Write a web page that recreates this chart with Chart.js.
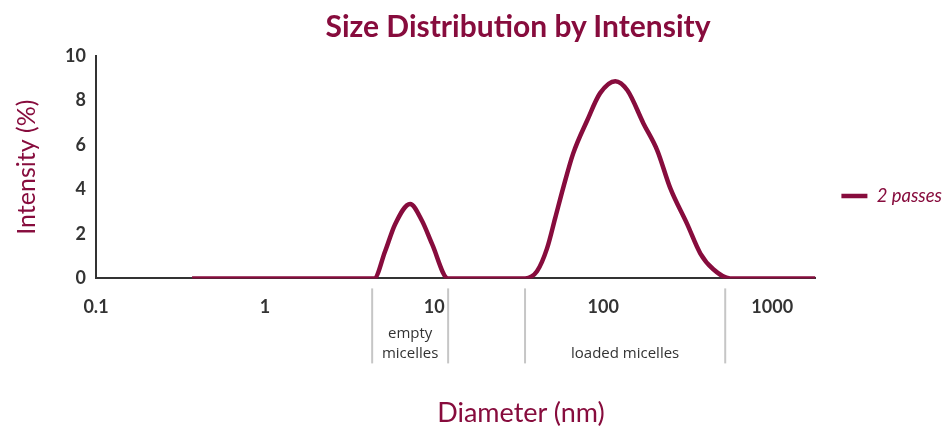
<!DOCTYPE html>
<html>
<head>
<meta charset="utf-8">
<script src="https://cdn.jsdelivr.net/npm/chart.js@4"></script>
<style>
  body { margin: 0; background: #fff; }
  #wrap { position: relative; width: 947px; height: 430px; }
  .ttl { position: absolute; transform: translateX(-50%); white-space: nowrap; color: #870c3d; font-family: Lato, sans-serif; }
  #title { left: 518px; top: 7px; font-size: 30px; font-weight: bold; }
  #xtitle { left: 521px; top: 395px; font-size: 27px; }
</style>
</head>
<body>
<div id="wrap">
  <canvas id="sizeChart" width="947" height="430"></canvas>
  <div class="ttl" id="title">Size Distribution by Intensity</div>
  <div class="ttl" id="xtitle">Diameter (nm)</div>
</div>
<script>
const seriesName = "2 passes";
const diameters = [0.37, 4.42, 5.13, 5.88, 7.21, 8.49, 9.73, 12.1, 34.5, 40.6, 46.6, 52.0, 58.0, 66.4, 80.4, 95.9, 118, 139, 173, 209, 249, 314, 375, 448, 564, 1800];
const intensities = [0, 0, 1.22, 2.44, 3.35, 2.58, 1.54, 0, 0, 0.32, 1.36, 2.71, 4.07, 5.61, 7.1, 8.33, 8.87, 8.46, 6.97, 5.75, 4.07, 2.44, 1.13, 0.41, 0, 0];
const xTicks = [0.1, 1, 10, 100, 1000];
const yTicks = [0, 2, 4, 6, 8, 10];
// size ranges marked under the axis
const regionEdges = [4.3, 12.1, 34.5, 527];
const regionNames = [["empty", "micelles"], ["loaded micelles"]];

const crimson = "#870c3d";
const dark = "#333333";

const regionPlugin = {
  id: "regions",
  afterDraw(chart) {
    const ctx = chart.ctx;
    const x = chart.scales.x;
    const top = chart.chartArea.bottom + 10;
    const px = regionEdges.map(v => x.getPixelForValue(v));
    ctx.save();
    ctx.strokeStyle = "#c6c6c6";
    ctx.lineWidth = 2;
    px.forEach(p => {
      ctx.beginPath();
      ctx.moveTo(p, top);
      ctx.lineTo(p, top + 75);
      ctx.stroke();
    });
    ctx.fillStyle = dark;
    ctx.font = "15px 'Open Sans'";
    ctx.textAlign = "center";
    ctx.textBaseline = "middle";
    regionNames.forEach((lines, i) => {
      const cx = (px[i * 2] + px[i * 2 + 1]) / 2;
      const y0 = top + 75 - 10 - (lines.length - 1) * 20;
      lines.forEach((t, j) => ctx.fillText(t, cx, y0 + j * 20));
    });
    ctx.restore();
  }
};

const points = diameters.map((d, i) => ({ x: d, y: intensities[i] }));

new Chart(document.getElementById("sizeChart"), {
  type: "line",
  data: {
    datasets: [{
      label: seriesName,
      data: points,
      borderColor: crimson,
      backgroundColor: crimson,
      borderWidth: 4.5,
      pointRadius: 0,
      cubicInterpolationMode: "monotone",
      fill: false
    }]
  },
  options: {
    responsive: false,
    animation: false,
    layout: { padding: { top: 56, bottom: 94, left: 0, right: -5 } },
    plugins: {
      title: { display: false },
      tooltip: { enabled: false },
      legend: {
        position: "right",
        align: "center",
        labels: {
          usePointStyle: true,
          pointStyle: "line",
          pointStyleWidth: 26,
          padding: 26,
          color: crimson,
          font: { family: "Lato", size: 18.5, style: "italic" }
        }
      }
    },
    scales: {
      x: {
        type: "logarithmic",
        min: 0.1,
        max: 1800,
        grid: { display: false, drawTicks: false },
        border: { display: true, color: dark, width: 2 },
        afterBuildTicks: (scale) => { scale.ticks = xTicks.map(v => ({ value: v })); },
        ticks: {
          padding: 18,
          color: dark,
          maxRotation: 0,
          font: { family: "Lato", size: 18, weight: "bold" },
          callback: (v) => String(v)
        }
      },
      y: {
        min: 0,
        max: 10,
        afterFit: (scale) => { scale.width = 96; },
        afterBuildTicks: (scale) => { scale.ticks = yTicks.map(v => ({ value: v })); },
        grid: { display: false, drawTicks: false },
        border: { display: true, color: dark, width: 2 },
        title: {
          display: true,
          text: "Intensity (%)",
          color: crimson,
          padding: { top: 12, bottom: 0 },
          font: { family: "Lato", size: 25 }
        },
        ticks: {
          padding: 10,
          color: dark,
          font: { family: "Lato", size: 18, weight: "bold" }
        }
      }
    }
  },
  plugins: [regionPlugin]
});
</script>
</body>
</html>
